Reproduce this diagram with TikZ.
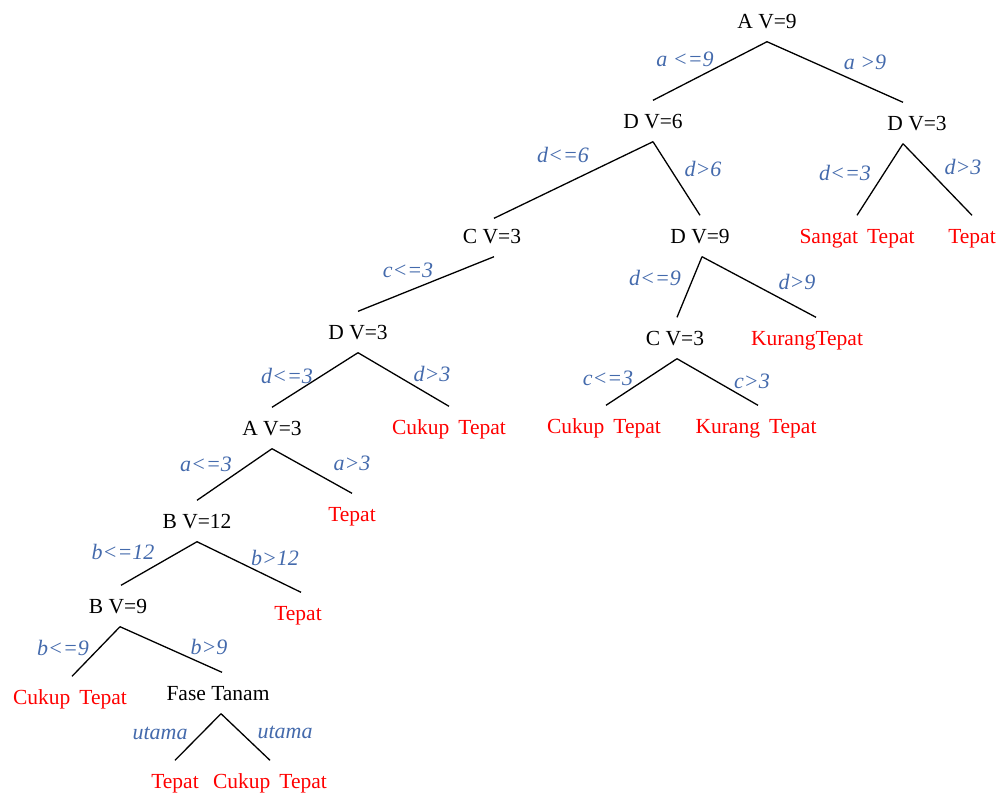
\documentclass[tikz,border=0pt]{standalone}
\usepackage{fontspec}
\setmainfont{Liberation Serif}
\definecolor{lblblue}{RGB}{68,106,172}
\definecolor{leafred}{RGB}{255,0,0}
\begin{document}
\begin{tikzpicture}[x=1pt,y=-1pt,
  tnode/.style={inner sep=0pt,minimum height=41pt,text height=14pt,text depth=0pt,
    font=\fontsize{21.5}{24}\selectfont,anchor=center},
  inner/.style={tnode,text=black},
  leaf/.style={tnode,text=leafred},
  elabel/.style={inner sep=0pt,anchor=center,text=lblblue,
    font=\fontsize{22}{24}\selectfont\itshape},
  edge/.style={draw=black,line width=1.3pt}]
\useasboundingbox (0,0) rectangle (1001,793);
\newcommand{\wsp}{\hspace{0.42em}}
% nodes
\node[inner] (root) at (767,21) {A V=9};
\node[inner] (dv6) at (653,121) {D V=6};
\node[inner] (dv3r) at (917,123) {D V=3};
\node[inner] (cv3a) at (492,236) {C V=3};
\node[inner] (dv9) at (700,236) {D V=9};
\node[leaf] (sangat) at (857,236) {Sangat\wsp Tepat};
\node[leaf] (tepat1) at (972,236) {Tepat};
\node[inner] (dv3) at (358,332) {D V=3};
\node[inner] (cv3b) at (675,338) {C V=3};
\node[leaf] (kurang1) at (807,338) {KurangTepat};
\node[inner] (av3) at (272,428) {A V=3};
\node[leaf] (cukup1) at (449,427) {Cukup\wsp Tepat};
\node[leaf] (cukup2) at (604,426) {Cukup\wsp Tepat};
\node[leaf] (kurang2) at (756,426) {Kurang\wsp Tepat};
\node[inner] (bv12) at (197,521) {B V=12};
\node[leaf] (tepat2) at (352,514) {Tepat};
\node[inner] (bv9) at (118,606) {B V=9};
\node[leaf] (tepat3) at (298,613) {Tepat};
\node[leaf] (cukup3) at (70,697) {Cukup\wsp Tepat};
\node[inner] (fase) at (218,693) {Fase Tanam};
\node[leaf] (tepat4) at (175,781) {Tepat};
\node[leaf] (cukup4) at (270,781) {Cukup\wsp Tepat};
% edges
\draw[edge] (root.south) -- (dv6.north);
\draw[edge] (root.south) -- ([xshift=-14pt]dv3r.north);
\draw[edge] (dv6.south) -- ([xshift=2pt,yshift=-3pt]cv3a.north);
\draw[edge] (dv6.south) -- (dv9.north);
\draw[edge] ([xshift=-14pt]dv3r.south) -- (sangat.north);
\draw[edge] ([xshift=-14pt]dv3r.south) -- (tepat1.north);
\draw[edge] ([xshift=2pt]cv3a.south) -- (dv3.north);
\draw[edge] ([xshift=2pt]dv9.south) -- ([xshift=2pt]cv3b.north);
\draw[edge] ([xshift=2pt]dv9.south) -- ([xshift=9pt]kurang1.north);
\draw[edge] (dv3.south) -- (av3.north);
\draw[edge] (dv3.south) -- (cukup1.north);
\draw[edge] ([xshift=2pt]cv3b.south) -- ([xshift=2pt]cukup2.north);
\draw[edge] ([xshift=2pt]cv3b.south) -- ([xshift=2pt]kurang2.north);
\draw[edge] (av3.south) -- (bv12.north);
\draw[edge] (av3.south) -- (tepat2.north);
\draw[edge] (bv12.south) -- ([xshift=3pt]bv9.north);
\draw[edge] (bv12.south) -- ([xshift=3pt]tepat3.north);
\draw[edge] ([xshift=2pt]bv9.south) -- ([xshift=2pt]cukup3.north);
\draw[edge] ([xshift=2pt]bv9.south) -- ([xshift=4pt]fase.north);
\draw[edge] ([xshift=3pt]fase.south) -- (tepat4.north);
\draw[edge] ([xshift=3pt]fase.south) -- (cukup4.north);
% edge labels
\node[elabel] (l1) at (685,59) {a <=9};
\node[elabel] (l2) at (865,62) {a >9};
\node[elabel] (l3) at (563,155) {d<=6};
\node[elabel] (l4) at (703,169) {d>6};
\node[elabel] (l5) at (845,173) {d<=3};
\node[elabel] (l6) at (963,167) {d>3};
\node[elabel] (l7) at (655,278) {d<=9};
\node[elabel] (l8) at (797,282) {d>9};
\node[elabel] (l9) at (408,270) {c<=3};
\node[elabel] (l10) at (608,378) {c<=3};
\node[elabel] (l11) at (752,381) {c>3};
\node[elabel] (l12) at (287,376) {d<=3};
\node[elabel] (l13) at (432,374) {d>3};
\node[elabel] (l14) at (206,464) {a<=3};
\node[elabel] (l15) at (352,463) {a>3};
\node[elabel] (l16) at (123,552) {b<=12};
\node[elabel] (l17) at (275,558) {b>12};
\node[elabel] (l18) at (63,648) {b<=9};
\node[elabel] (l19) at (209,647) {b>9};
\node[elabel] (l20) at (160,733) {utama};
\node[elabel] (l21) at (285,732) {utama};
\end{tikzpicture}
\end{document}
